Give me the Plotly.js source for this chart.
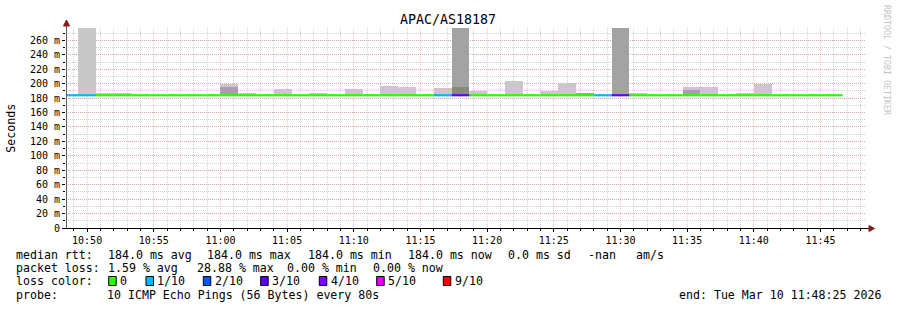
<!DOCTYPE html>
<html>
<head>
<meta charset="utf-8">
<script src="https://cdn.plot.ly/plotly-3.0.1.min.js"></script>
<style>
html,body{margin:0;padding:0;background:#fff;}
#chart{width:897px;height:310px;}
</style>
</head>
<body>
<div id="chart"></div>
<script>
// ---------- data ----------
const day = '2026-03-10 ';
// 80 s step boundaries (45 boundaries -> 44 intervals)
const boundaries = ['10:48:00','10:49:20','10:50:40','10:52:00','10:53:20','10:54:40','10:56:00','10:57:20','10:58:40',
  '11:00:00','11:01:20','11:02:40','11:04:00','11:05:20','11:06:40','11:08:00','11:09:20','11:10:40','11:12:00',
  '11:13:20','11:14:40','11:16:00','11:17:20','11:18:40','11:20:00','11:21:20','11:22:40','11:24:00','11:25:20',
  '11:26:40','11:28:00','11:29:20','11:30:40','11:32:00','11:33:20','11:34:40','11:36:00','11:37:20','11:38:40',
  '11:40:00','11:41:20','11:42:40','11:44:00','11:45:20','11:46:40'];
// median rtt per interval (ms)
const medianRtt = [184,184,184,184,184,184,184,184,184,184,184,184,184,184,184,184,184,184,184,184,184,184,
  184,184,184,184,184,184,184,184,184,184,184,184,184,184,184,184,184,184,184,184,184,184];
// lost pings (of 10) per interval
const lossCount = [1,1,0,0,0,0,0,0,0,0,0,0,0,0,0,0,0,0,0,0,0,1,3,0,0,0,0,0,0,0,1,3,0,0,0,0,0,0,0,0,0,0,0,0];
// smoke: outer (light), inner (mid) and core (dark) upper ping values (ms)
const smokeLight = [null,300,187.5,187.5,null,null,null,null,null,200,187.5,null,192,null,187.5,null,192,null,197.5,196,
  null,194.5,null,189.5,null,204,null,189.5,200.5,null,null,null,187.5,null,null,196,196,null,187.5,199,null,null,null,null];
const smokeMid = [null,null,null,null,null,null,null,null,null,196,null,null,null,null,null,null,null,null,null,null,
  null,null,300,null,null,null,null,null,null,187.5,null,300,null,null,null,191,null,null,null,null,null,null,null,null];
const smokeDark = [null,null,null,null,null,null,null,null,null,null,null,null,null,null,null,null,null,null,null,null,
  null,null,196,null,null,null,null,null,null,null,null,null,null,null,null,null,null,null,null,null,null,null,null,null];

const yTickVals = [0,20,40,60,80,100,120,140,160,180,200,220,240,260];
const yTickText = ['0','20 m','40 m','60 m','80 m','100 m','120 m','140 m','160 m','180 m','200 m','220 m','240 m','260 m'];

const lossLevels = [0,1,2,3,4,5,9];
const lossLabels = ['0','1/10','2/10','3/10','4/10','5/10','9/10'];
const lossColors = ['#26ff00','#00b8ff','#0059ff','#5e00ff','#7e00ff','#dd00ff','#ff0000'];

const titleText = 'APAC/AS18187';
const legendLine1 = [['median rtt:',16],['184.0 ms avg',107.5],['184.0 ms max',207.3],['184.0 ms min',307.6],
  ['184.0 ms now',407.8],['0.0 ms sd',507.5],['-nan',587.6],['am/s',635.7]];
const legendLine2 = [['packet loss:',16],['1.59 % avg',107.5],['28.88 % max',196.5],['0.00 % min',286.5],['0.00 % now',372.5]];
const probeText = '10 ICMP Echo Pings (56 Bytes) every 80s';
const endText = 'end: Tue Mar 10 11:48:25 2026';
const xStart = '2026-03-10 10:48:25', xEnd = '2026-03-10 11:48:25';

// ---------- build ----------
const FONT = 'DejaVu Sans Mono';
const N = medianRtt.length;
const starts = boundaries.slice(0, N).map(t => day + t);
const widths = [];
for (let i = 0; i < N; i++) {
  widths.push(new Date('2026-03-10T' + boundaries[i+1]) - new Date('2026-03-10T' + boundaries[i]));
}

function smokeTrace(tops, color, name) {
  return {
    type: 'bar', name: name, x: starts, base: medianRtt,
    y: tops.map((v, i) => v == null ? null : v - medianRtt[i]),
    width: widths, offset: 0,
    marker: {color: color, line: {width: 0}},
    hoverinfo: 'skip', showlegend: false
  };
}

const traces = [
  smokeTrace(smokeLight, '#c8c8c8', 'smoke outer'),
  smokeTrace(smokeMid, '#a3a3a3', 'smoke inner'),
  smokeTrace(smokeDark, '#888888', 'smoke core')
];

lossLevels.forEach((lv, ci) => {
  const xs = [], ys = [];
  for (let i = 0; i < N; i++) {
    if (lossCount[i] === lv) {
      xs.push(day + boundaries[i], day + boundaries[i+1], null);
      ys.push(medianRtt[i], medianRtt[i], null);
    }
  }
  if (xs.length) {
    traces.push({type: 'scatter', mode: 'lines', x: xs, y: ys, name: lossLabels[ci],
      line: {color: lossColors[ci], width: 2.2}, connectgaps: false, hoverinfo: 'skip', showlegend: false});
  }
});

// pixel helpers (plot area: x 66..866, y 28..228)
const PX = p => (p - 66) / 800;
const PY = p => (228 - p) / 200;

const annotations = [];
function txt(text, px, py, opts) {
  annotations.push(Object.assign({
    text: text, x: PX(px), y: PY(py), xref: 'paper', yref: 'paper',
    xanchor: 'left', yanchor: 'middle', showarrow: false, borderpad: 0, borderwidth: 0,
    font: {family: FONT, size: 11.6, color: '#000'}
  }, opts || {}));
}
legendLine1.forEach(([t, x]) => txt(t, x, 255));
legendLine2.forEach(([t, x]) => txt(t, x, 268));
txt('loss color:', 16, 281.3);
txt('probe:', 16, 295.3);
txt(probeText, 107.3, 295.3);
txt(endText, 881.5, 295.3, {xanchor: 'right'});
txt('Seconds', 10.7, 128, {xanchor: 'center', textangle: -90});
txt('RRDTOOL / TOBI OETIKER', 887, 60, {xanchor: 'center', textangle: 90,
  font: {family: FONT, size: 8.3, color: '#c4c4c4'}});

const shapes = [];
const boxX = [108.7, 146, 203.3, 260.7, 319.3, 376.7, 443.3];
lossLabels.forEach((lab, i) => {
  shapes.push({type: 'rect', xref: 'paper', yref: 'paper', x0: PX(boxX[i]), x1: PX(boxX[i] + 7.5),
    y0: PY(285.5), y1: PY(276.5), fillcolor: lossColors[i], line: {color: '#000', width: 1}});
  txt(lab, boxX[i] + 11.3, 281.3);
});
// axis lines and arrows
shapes.push({type: 'line', xref: 'paper', yref: 'paper', x0: PX(66.5), x1: PX(66.5), y0: PY(228.5), y1: PY(22),
  line: {color: '#606060', width: 1}});
shapes.push({type: 'line', xref: 'paper', yref: 'paper', x0: PX(62.5), x1: PX(870), y0: PY(228.5), y1: PY(228.5),
  line: {color: '#000', width: 1}});
shapes.push({type: 'path', xref: 'paper', yref: 'paper',
  path: `M ${PX(63.5)},${PY(26)} L ${PX(66.5)},${PY(20)} L ${PX(69.5)},${PY(26)} Z`,
  fillcolor: '#8b1a1a', line: {color: '#8b1a1a', width: 1}});
shapes.push({type: 'path', xref: 'paper', yref: 'paper',
  path: `M ${PX(869)},${PY(225.5)} L ${PX(874.5)},${PY(228.5)} L ${PX(869)},${PY(231.5)} Z`,
  fillcolor: '#8b1a1a', line: {color: '#8b1a1a', width: 1}});

const layout = {
  width: 897, height: 310,
  margin: {l: 66, r: 31, t: 28, b: 82, pad: 0},
  paper_bgcolor: '#fff', plot_bgcolor: '#fff',
  barmode: 'overlay', bargap: 0,
  showlegend: false,
  font: {family: FONT, size: 10, color: '#000'},
  title: {text: titleText, font: {family: FONT, size: 13.3, color: '#000'},
    xref: 'container', yref: 'container', x: 448 / 897, y: 1 - 19 / 310, xanchor: 'center', yanchor: 'middle'},
  xaxis: {
    type: 'date', range: [xStart, xEnd], fixedrange: true,
    tick0: '2026-03-10 10:50:00', dtick: 300000, tickformat: '%H:%M',
    ticks: 'outside', ticklen: 3, tickcolor: '#000',
    showgrid: true, gridcolor: 'rgba(240,90,90,0.38)', griddash: '1px,1px', gridwidth: 1,
    minor: {dtick: 60000, showgrid: true, gridcolor: 'rgba(150,150,150,0.45)', griddash: '1px,1px',
      ticks: 'outside', ticklen: 2, tickcolor: '#000'},
    showline: false, zeroline: false,
    tickfont: {family: FONT, size: 10, color: '#000'}
  },
  yaxis: {
    range: [0, 277.2], fixedrange: true,
    tickmode: 'array', tickvals: yTickVals, ticktext: yTickText,
    ticks: 'outside', ticklen: 3, tickcolor: '#000',
    showgrid: true, gridcolor: 'rgba(240,90,90,0.38)', griddash: '1px,1px', gridwidth: 1,
    minor: {dtick: 10, showgrid: true, gridcolor: 'rgba(150,150,150,0.45)', griddash: '1px,1px',
      ticks: 'outside', ticklen: 2, tickcolor: '#000'},
    showline: false, zeroline: false,
    tickfont: {family: FONT, size: 10, color: '#000'}
  },
  annotations: annotations,
  shapes: shapes
};

Plotly.newPlot('chart', traces, layout, {displayModeBar: false, staticPlot: true});
</script>
</body>
</html>
